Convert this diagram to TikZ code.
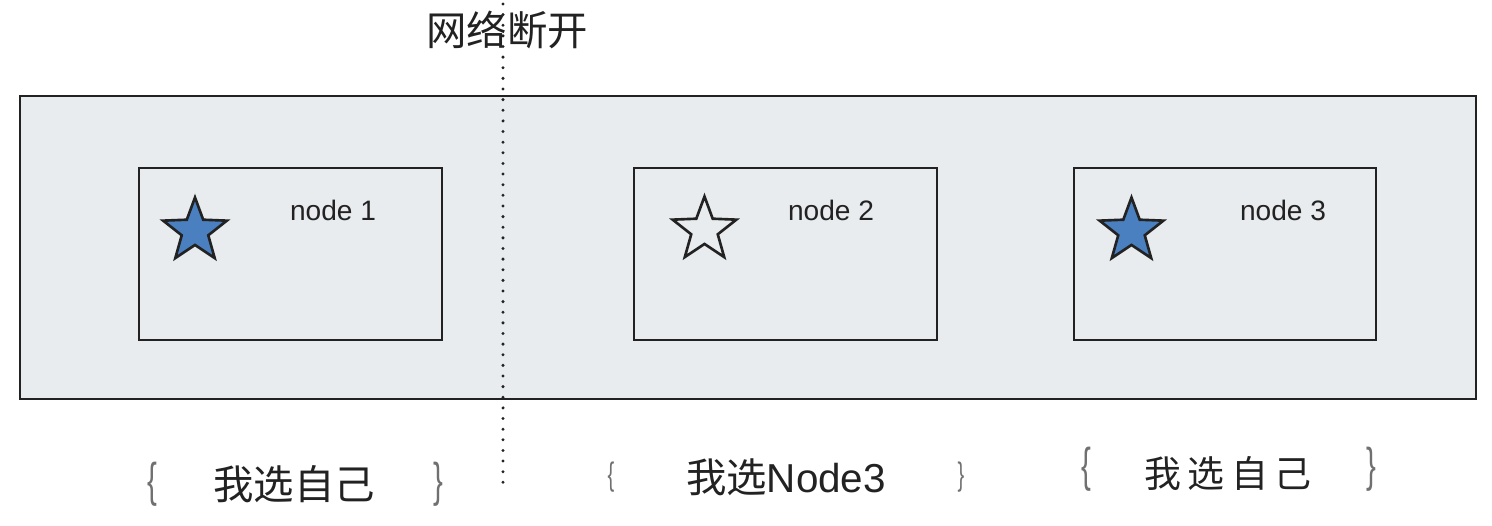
\documentclass[tikz,border=0pt]{standalone}
\usepackage{graphicx}
\usepackage{fontspec}
\setmainfont{Liberation Sans}
\newfontfamily\cjk{Noto Sans CJK SC}
\usetikzlibrary{shapes.geometric}
\definecolor{panel}{HTML}{E8ECEE}
\definecolor{starblue}{HTML}{4A80C0}
\definecolor{ink}{HTML}{222222}
\definecolor{bracegray}{HTML}{707070}
\newcommand{\thinglyph}[1]{\scalebox{0.62}[1]{#1}}
\begin{document}
\begin{tikzpicture}[x=0.02cm,y=-0.02cm,
  box/.style={draw=ink, line width=1.4pt},
  lbl/.style={font=\fontsize{16}{18}\selectfont, text=ink, inner sep=0, anchor=base},
  starnode/.style={star, star points=5, star point ratio=2.4, minimum size=1.34cm, inner sep=0, draw=ink, line width=1.5pt},
  cjklbl/.style={font=\cjk\fontsize{23}{26}\selectfont, text=ink, inner sep=0},
  bracebig/.style={font=\fontsize{27}{30}\selectfont, text=bracegray, inner sep=0},
  bracesmall/.style={font=\fontsize{18.5}{20}\selectfont, text=bracegray, inner sep=0}]
\useasboundingbox (0,0) rectangle (1492,526);
% outer panel
\draw[box, fill=panel] (20,96) rectangle (1476,399);
% inner node boxes
\draw[box] (139,168) rectangle (442,340);
\draw[box] (634,168) rectangle (937,340);
\draw[box] (1074,168) rectangle (1376,340);
% stars
\node[starnode, fill=starblue] (s1) at (195,231) {};
\node[starnode, fill=panel] (s2) at (704.5,230) {};
\node[starnode, fill=starblue] (s3) at (1131.5,231) {};
% node labels
\node[lbl] (n1) at (333,221) {node 1};
\node[lbl] (n2) at (831,221) {node 2};
\node[lbl] (n3) at (1283,221) {node 3};
% network partition line
\coordinate (ptop) at (503,4);
\coordinate (pbot) at (503,492);
\draw[ink, line width=1.9pt, line cap=round, dash pattern=on 0pt off 6.05pt] (ptop) -- (pbot);
\node[cjklbl] (title) at (507,30) {网络断开};
% bottom choices
\node[bracebig] (b1l) at (152,484) {\thinglyph{\{}};
\node[cjklbl] (c1) at (294,484) {我选自己};
\node[bracebig] (b1r) at (438,484) {\thinglyph{\}}};
\node[bracesmall] (b2l) at (611,477) {\thinglyph{\{}};
\node[font=\fontsize{23}{26}\selectfont, text=ink, inner sep=0] (c2) at (786,477) {{\cjk 我选}Node3};
\node[bracesmall] (b2r) at (961,477) {\thinglyph{\}}};
\node[bracebig] (b3l) at (1086,469) {\thinglyph{\{}};
\node[font=\cjk\fontsize{21}{24}\selectfont, text=ink, inner sep=0] (c3) at (1228,474) {我\hspace{0.18em}选\hspace{0.18em}自\hspace{0.18em}己};
\node[bracebig] (b3r) at (1371,469) {\thinglyph{\}}};
\end{tikzpicture}
\end{document}
